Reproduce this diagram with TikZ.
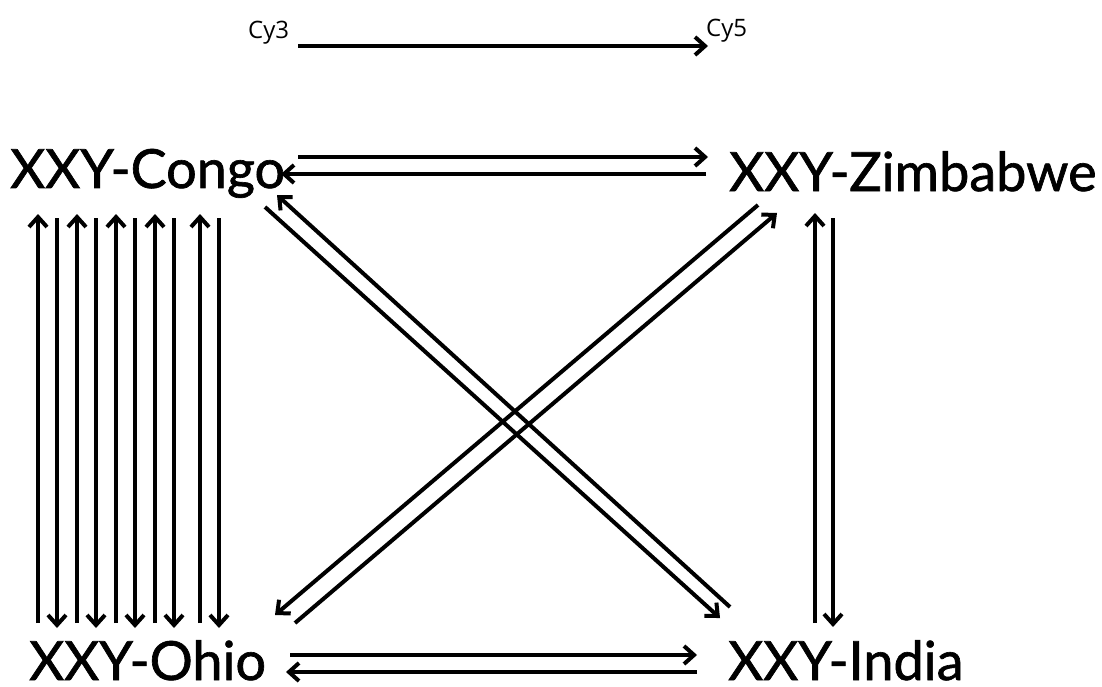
\documentclass[tikz,border=0pt]{standalone}
\usepackage{fontspec}
\setmainfont{Lato}
\newfontfamily\lblfont{Lato}[FakeBold=1.2]
\newfontfamily\cyfont{Open Sans}
\usetikzlibrary{arrows.meta,calc}
\begin{document}
\begin{tikzpicture}[x=1pt,y=-1pt,
  lbl/.style={inner sep=0pt, anchor=base west, font=\lblfont\fontsize{54}{60}\selectfont},
  cy/.style={inner sep=0pt, anchor=base west, font=\cyfont\fontsize{24}{28}\selectfont},
  con/.style={line width=4pt, -{Straight Barb[length=10pt,width=18pt]}}]
\useasboundingbox (0,0) rectangle (1102,687);
\node[lbl] (congo) at (10,188) {XXY-Congo};
\node[lbl] (zimb) at (729,191) {XXY-Zimbabwe};
\node[lbl] (ohio) at (29,680) {XXY-Ohio};
\node[lbl] (india) at (728,680) {XXY-India};
\node[cy] (cy3) at (248,39) {Cy3};
\node[cy] (cy5) at (706,37) {Cy5};
% legend arrow
\draw[con] ($(cy3.base west)+(50,7)$) -- ($(cy5.base west)+(2,9)$);
% top pair
\draw[con] ($(congo.base west)+(288,-31)$) -- ($(zimb.base west)+(-21,-34)$);
\draw[con] ($(zimb.base west)+(-23,-17)$) -- ($(congo.base west)+(271,-14)$);
% bottom pair
\draw[con] ($(ohio.base west)+(261,-25)$) -- ($(india.base west)+(-31,-25)$);
\draw[con] ($(india.base west)+(-31,-8)$) -- ($(ohio.base west)+(257,-8)$);
% left verticals
\foreach \x in {38,77,116,155,200}
  \draw[con] ($(ohio.base west)+(\x-29,-57)$) -- ($(congo.base west)+(\x-10,26)$);
\foreach \x in {57,96,135,174,219}
  \draw[con] ($(congo.base west)+(\x-10,30)$) -- ($(ohio.base west)+(\x-29,-52)$);
% right verticals
\draw[con] ($(india.base west)+(87,-57)$) -- ($(zimb.base west)+(86,22)$);
\draw[con] ($(zimb.base west)+(104,27)$) -- ($(india.base west)+(105,-53)$);
% diagonals
\draw[con] ($(india.base west)+(2,-73)$) -- ($(congo.base west)+(267,7)$);
\draw[con] ($(congo.base west)+(255,19)$) -- ($(india.base west)+(-8,-62)$);
\draw[con] ($(ohio.base west)+(266,-57)$) -- ($(zimb.base west)+(48,22)$);
\draw[con] ($(zimb.base west)+(29,14)$) -- ($(ohio.base west)+(246,-65)$);
\end{tikzpicture}
\end{document}
